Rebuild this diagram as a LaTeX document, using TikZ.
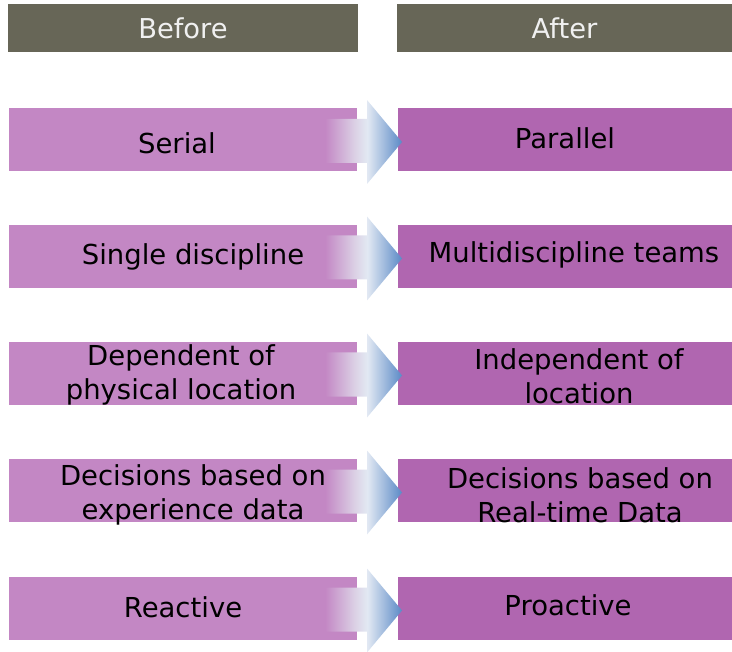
\documentclass[tikz,border=0pt]{standalone}
\usepackage{fontspec}
\setmainfont{DejaVu Sans}
\definecolor{headgray}{HTML}{676657}
\definecolor{beforebox}{HTML}{C387C4}
\definecolor{afterbox}{HTML}{B066B0}
\definecolor{arrowblue}{HTML}{5A89C6}
\definecolor{arrowpale}{HTML}{E2E9F3}
\definecolor{arrowmid}{HTML}{DCD3E6}
\pgfdeclarehorizontalshading{arrowfade}{100bp}{%
  color(0bp)=(beforebox); color(25bp)=(beforebox); color(45bp)=(arrowmid);
  color(52.5bp)=(arrowpale); color(75bp)=(arrowblue); color(100bp)=(arrowblue)}
\tikzset{
  header/.style={fill=headgray, minimum width=350*0.75pt, minimum height=48*0.75pt,
    inner sep=0pt, text=white!94!black, font=\fontsize{20.5}{24}\selectfont},
  stepbox/.style={minimum height=63*0.75pt, inner sep=0pt},
  steptext/.style={align=center, font=\fontsize{20.6}{25.5}\selectfont, inner sep=0pt}
}
\begin{document}
\begin{tikzpicture}[x=0.75pt, y=-0.75pt]
  \useasboundingbox (0,0) rectangle (732,652);
  % column headers
  \node[header] (before) at (183,28) {Before};
  \node[header, minimum width=335*0.75pt] (after) at (564.5,28) {After};
  % rows: box centre y / left text pos / left text / right text pos / right text
  \foreach \i/\y/\lx/\ly/\ltxt/\rx/\ry/\rtxt in {
      1/140/177/143/{Serial}/565/138/{Parallel},
      2/256.5/193/257/{Single discipline}/574/255/{Multidiscipline teams},
      3/373.5/181/375/{Dependent of\\physical location}/579/376.5/{Independent of\\location},
      4/490.5/193/494.5/{Decisions based on\\experience data}/580/495/{Decisions based on\\Real-time Data},
      5/608.5/183/607/{Reactive}/568/605/{Proactive}} {
    \node[stepbox, fill=beforebox, minimum width=348*0.75pt] (L\i) at (183,\y) {};
    \node[stepbox, fill=afterbox, minimum width=334*0.75pt] (R\i) at (565,\y) {};
    % fading block arrow between the two boxes
    \shade[shading=arrowfade]
      (325,\y-21) -- (367,\y-21) -- (367,\y-40) -- (402,\y+2)
      -- (367,\y+44) -- (367,\y+23) -- (325,\y+23) -- cycle;
    \node[steptext] (Lt\i) at (\lx,\ly) {\ltxt};
    \node[steptext] (Rt\i) at (\rx,\ry) {\rtxt};
  }
\end{tikzpicture}
\end{document}
